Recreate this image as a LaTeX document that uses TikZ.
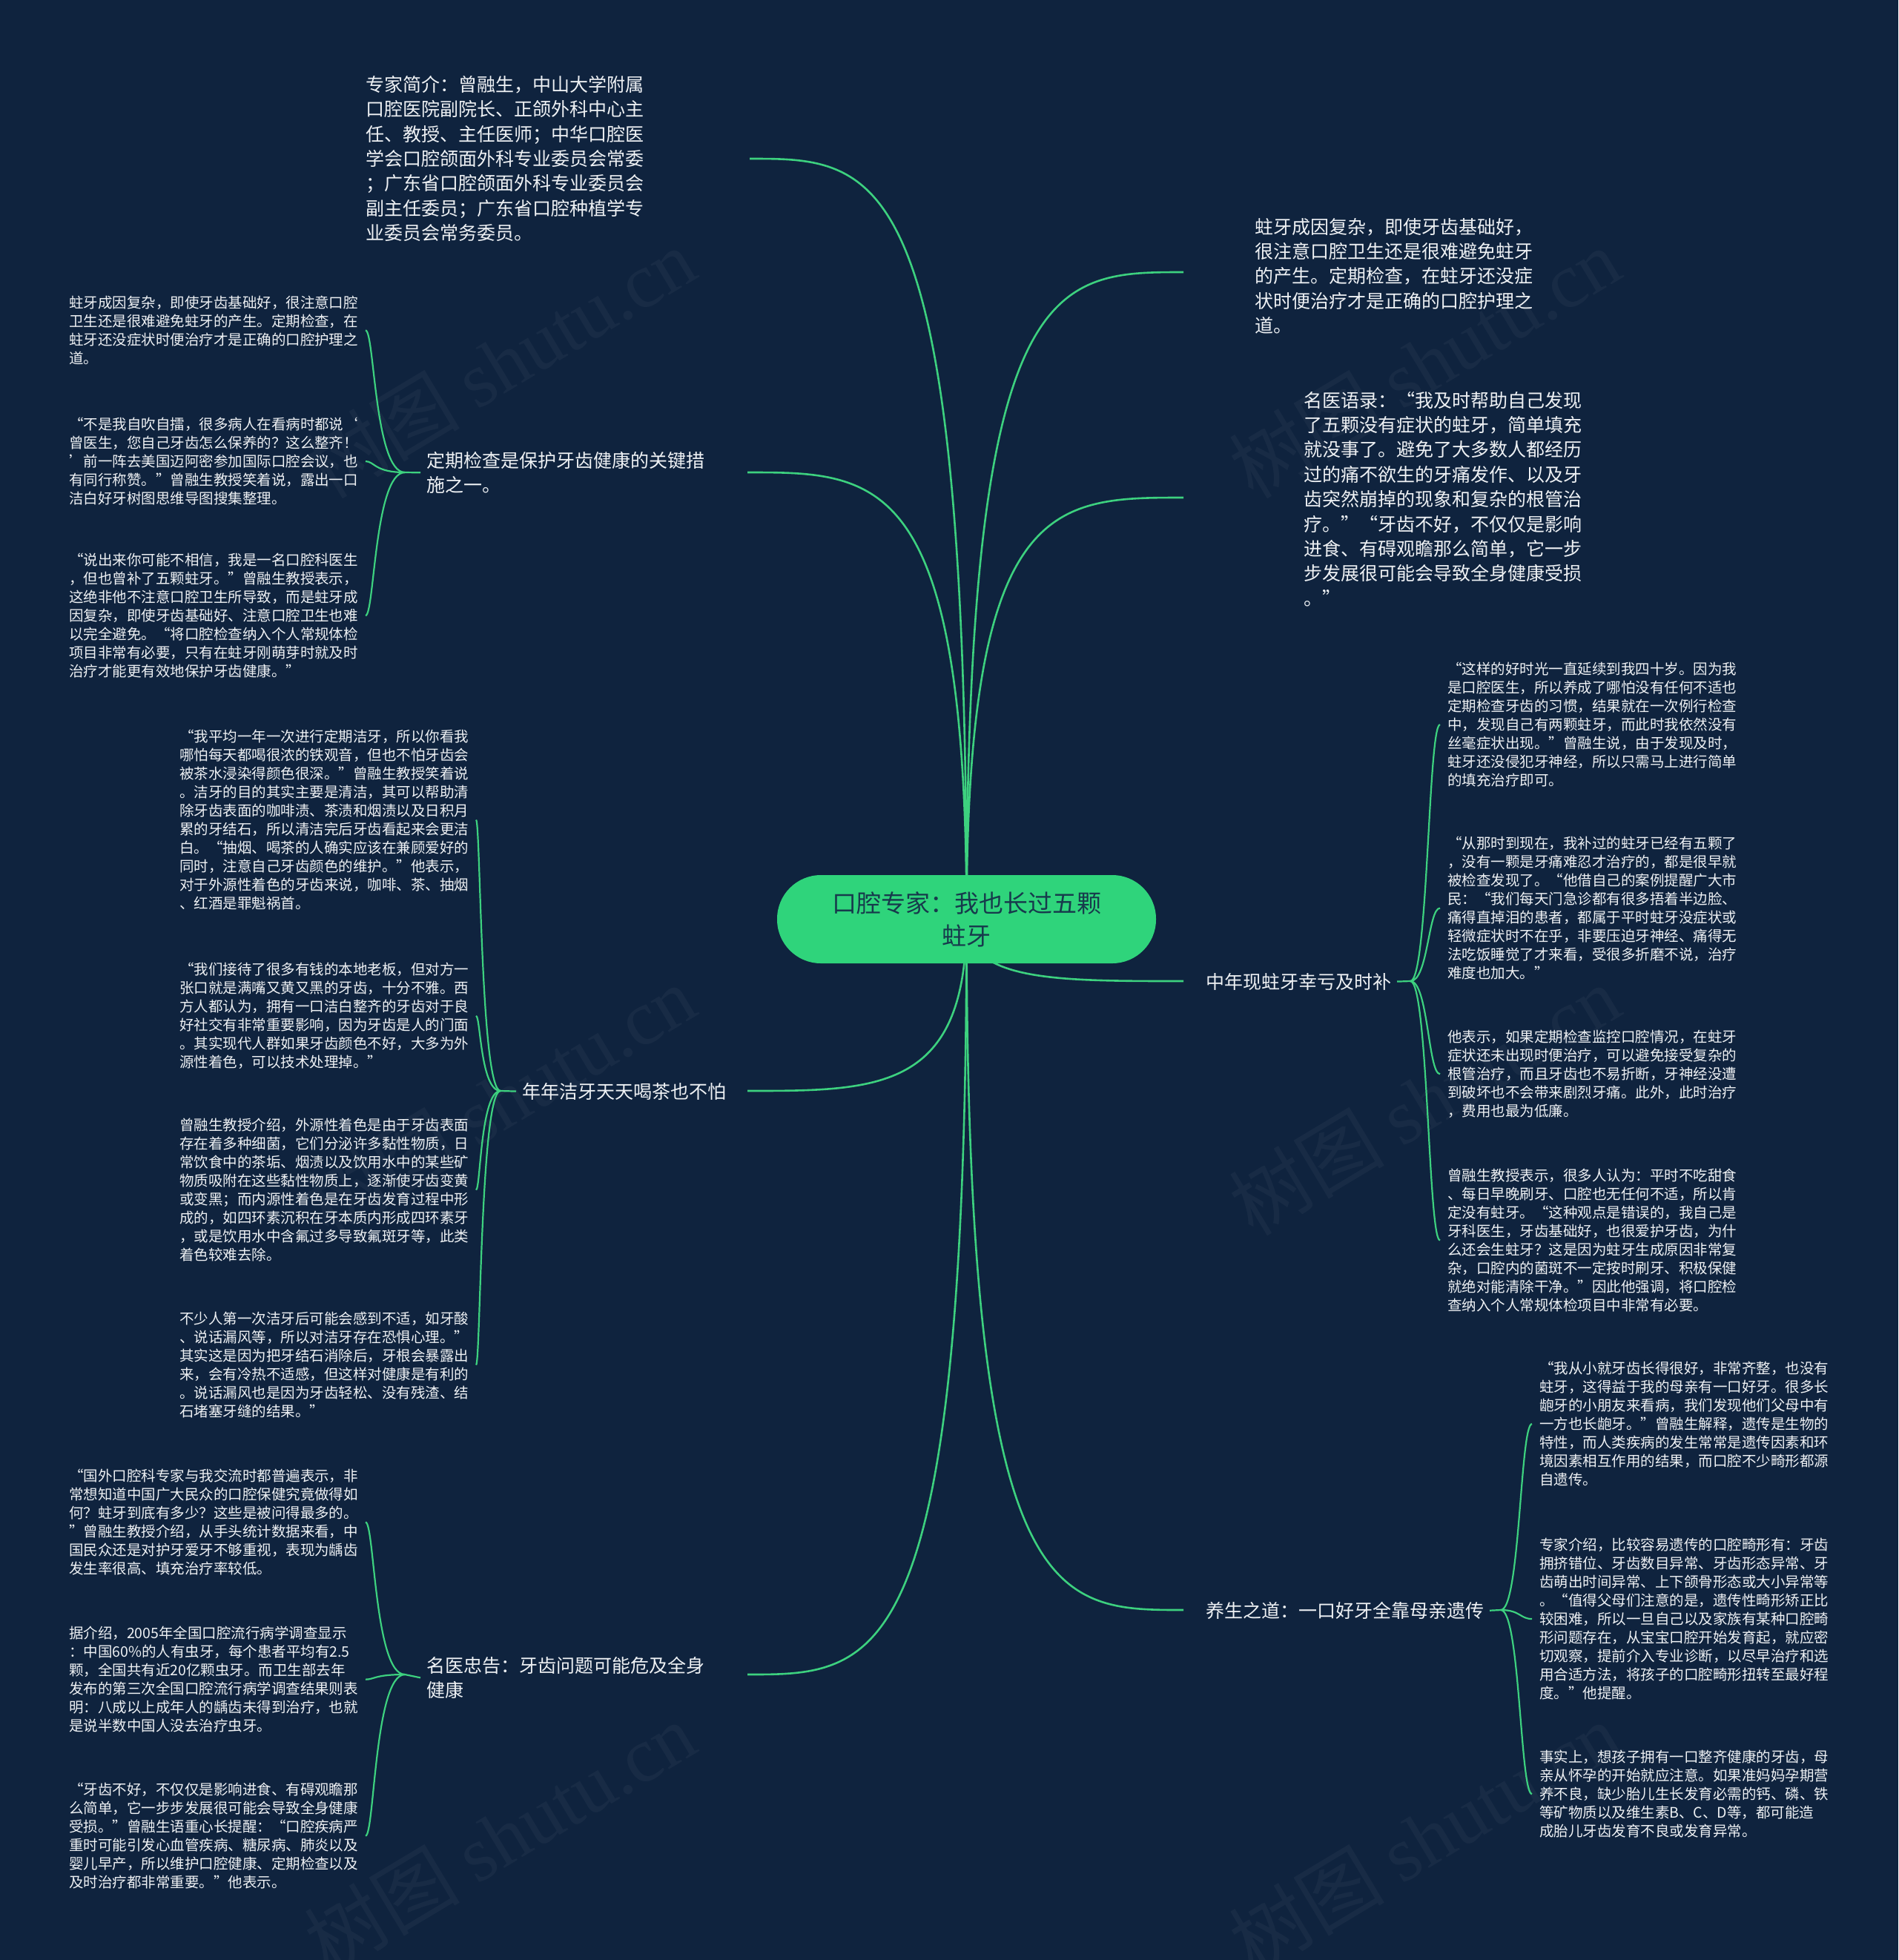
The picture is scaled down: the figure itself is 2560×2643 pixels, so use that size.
\documentclass[tikz,border=0pt]{standalone}
\usepackage{fontspec}
\setmainfont{Noto Sans CJK SC}
\newfontfamily\wmfont{Liberation Serif}
\usetikzlibrary{calc}
\definecolor{bg}{HTML}{0F233E}
\definecolor{ln}{HTML}{3DD17F}
\definecolor{pill}{HTML}{2FD47B}
\definecolor{txt}{HTML}{EEF1F4}
\definecolor{ctxt}{HTML}{173A4C}
\begin{document}
\begin{tikzpicture}[x=1pt,y=-1pt,
  conn/.style={draw=ln,line width=2.6pt},
  brace/.style={draw=ln,line width=2.2pt},
  leaf/.style={anchor=north west,inner sep=0pt,outer sep=10pt,align=left,text=txt,font=\fontsize{19.5}{25}\selectfont},
  topic/.style={anchor=north west,inner sep=0pt,outer sep=8pt,align=left,text=txt,font=\fontsize{25}{33.4}\selectfont},
  wm/.style={rotate=31,text=white,opacity=0.04,font=\fontsize{105}{110}\selectfont}
]
\useasboundingbox (0,0) rectangle (2560,2643);
\fill[bg] (0,0) rectangle (2560,2643);

% watermarks
\foreach \wx/\wy/\wn in {674/489/a,1921/489/b,674/1483/c,1921/1483/d,674/2477/e,1921/2477/f}{
  \node[wm] (wm\wn) at (\wx,\wy) {树图 {\wmfont shutu.cn}};
}

% root position and connector ends
\coordinate (rc) at (1303.5,1239.5);
\coordinate (e1) at (1011,214);
\coordinate (e2) at (1008,637);
\coordinate (e3) at (1008,1471);
\coordinate (e4) at (1008,2258);
\coordinate (e5) at (1596,367);
\coordinate (e6) at (1596,671);
\coordinate (e7) at (1596,1323);
\coordinate (e8) at (1596,2171);

\foreach \e in {e1,e2,e3,e4,e5,e6,e7,e8}{
  \draw[conn] (rc) .. controls (rc |- \e) and ($(rc |- \e)!0.4!(\e)$) .. (\e);
}

% root
\node[fill=pill,rounded corners=59pt,minimum width=511pt,minimum height=119pt,inner sep=0pt,align=center,text=ctxt,font=\fontsize{33}{44}\selectfont] (root) at (rc) {口腔专家：我也长过五颗\\蛀牙};

% topics (anchor offset by outer sep 8)
\node[topic] (q1) at (485,94) {专家简介：曾融生，中山大学附属\\口腔医院副院长、正颌外科中心主\\任、教授、主任医师；中华口腔医\\学会口腔颌面外科专业委员会常委\\；广东省口腔颌面外科专业委员会\\副主任委员；广东省口腔种植学专\\业委员会常务委员。};
\node[topic] (q2) at (567,601) {定期检查是保护牙齿健康的关键措\\施之一。};
\node[topic] (q3) at (696,1452) {年年洁牙天天喝茶也不怕};
\node[topic] (q4) at (567,2226) {名医忠告：牙齿问题可能危及全身\\健康};
\node[topic] (q5) at (1684,286) {蛀牙成因复杂，即使牙齿基础好，\\很注意口腔卫生还是很难避免蛀牙\\的产生。定期检查，在蛀牙还没症\\状时便治疗才是正确的口腔护理之\\道。};
\node[topic] (q6) at (1750,520) {名医语录：“我及时帮助自己发现\\了五颗没有症状的蛀牙，简单填充\\就没事了。避免了大多数人都经历\\过的痛不欲生的牙痛发作、以及牙\\齿突然崩掉的现象和复杂的根管治\\疗。”“牙齿不好，不仅仅是影响\\进食、有碍观瞻那么简单，它一步\\步发展很可能会导致全身健康受损\\。”};
\node[topic] (q7) at (1618,1304) {中年现蛀牙幸亏及时补};
\node[topic] (q8) at (1618,2152) {养生之道：一口好牙全靠母亲遗传};

% leaves of q2 (anchor offset by outer sep 10)
\node[leaf] (l21) at (83,389) {蛀牙成因复杂，即使牙齿基础好，很注意口腔\\卫生还是很难避免蛀牙的产生。定期检查，在\\蛀牙还没症状时便治疗才是正确的口腔护理之\\道。};
\node[leaf] (l22) at (83,553) {“不是我自吹自擂，很多病人在看病时都说‘\\曾医生，您自己牙齿怎么保养的？这么整齐！\\’前一阵去美国迈阿密参加国际口腔会议，也\\有同行称赞。”曾融生教授笑着说，露出一口\\洁白好牙树图思维导图搜集整理。};
\node[leaf] (l23) at (83,736) {“说出来你可能不相信，我是一名口腔科医生\\，但也曾补了五颗蛀牙。”曾融生教授表示，\\这绝非他不注意口腔卫生所导致，而是蛀牙成\\因复杂，即使牙齿基础好、注意口腔卫生也难\\以完全避免。“将口腔检查纳入个人常规体检\\项目非常有必要，只有在蛀牙刚萌芽时就及时\\治疗才能更有效地保护牙齿健康。”};

% leaves of q3
\node[leaf] (l31) at (232,974) {“我平均一年一次进行定期洁牙，所以你看我\\哪怕每天都喝很浓的铁观音，但也不怕牙齿会\\被茶水浸染得颜色很深。”曾融生教授笑着说\\。洁牙的目的其实主要是清洁，其可以帮助清\\除牙齿表面的咖啡渍、茶渍和烟渍以及日积月\\累的牙结石，所以清洁完后牙齿看起来会更洁\\白。“抽烟、喝茶的人确实应该在兼顾爱好的\\同时，注意自己牙齿颜色的维护。”他表示，\\对于外源性着色的牙齿来说，咖啡、茶、抽烟\\、红酒是罪魁祸首。};
\node[leaf] (l32) at (232,1288) {“我们接待了很多有钱的本地老板，但对方一\\张口就是满嘴又黄又黑的牙齿，十分不雅。西\\方人都认为，拥有一口洁白整齐的牙齿对于良\\好社交有非常重要影响，因为牙齿是人的门面\\。其实现代人群如果牙齿颜色不好，大多为外\\源性着色，可以技术处理掉。”};
\node[leaf] (l33) at (232,1498) {曾融生教授介绍，外源性着色是由于牙齿表面\\存在着多种细菌，它们分泌许多黏性物质，日\\常饮食中的茶垢、烟渍以及饮用水中的某些矿\\物质吸附在这些黏性物质上，逐渐使牙齿变黄\\或变黑；而内源性着色是在牙齿发育过程中形\\成的，如四环素沉积在牙本质内形成四环素牙\\，或是饮用水中含氟过多导致氟斑牙等，此类\\着色较难去除。};
\node[leaf] (l34) at (232,1759) {不少人第一次洁牙后可能会感到不适，如牙酸\\、说话漏风等，所以对洁牙存在恐惧心理。”\\其实这是因为把牙结石消除后，牙根会暴露出\\来，会有冷热不适感，但这样对健康是有利的\\。说话漏风也是因为牙齿轻松、没有残渣、结\\石堵塞牙缝的结果。”};

% leaves of q4
\node[leaf] (l41) at (83,1971) {“国外口腔科专家与我交流时都普遍表示，非\\常想知道中国广大民众的口腔保健究竟做得如\\何？蛀牙到底有多少？这些是被问得最多的。\\”曾融生教授介绍，从手头统计数据来看，中\\国民众还是对护牙爱牙不够重视，表现为龋齿\\发生率很高、填充治疗率较低。};
\node[leaf] (l42) at (83,2183) {据介绍，2005年全国口腔流行病学调查显示\\：中国60\%的人有虫牙，每个患者平均有2.5\\颗，全国共有近20亿颗虫牙。而卫生部去年\\发布的第三次全国口腔流行病学调查结果则表\\明：八成以上成年人的龋齿未得到治疗，也就\\是说半数中国人没去治疗虫牙。};
\node[leaf] (l43) at (83,2394) {“牙齿不好，不仅仅是影响进食、有碍观瞻那\\么简单，它一步步发展很可能会导致全身健康\\受损。”曾融生语重心长提醒：“口腔疾病严\\重时可能引发心血管疾病、糖尿病、肺炎以及\\婴儿早产，所以维护口腔健康、定期检查以及\\及时治疗都非常重要。”他表示。};

% leaves of q7
\node[leaf] (l71) at (1942,883) {“这样的好时光一直延续到我四十岁。因为我\\是口腔医生，所以养成了哪怕没有任何不适也\\定期检查牙齿的习惯，结果就在一次例行检查\\中，发现自己有两颗蛀牙，而此时我依然没有\\丝毫症状出现。”曾融生说，由于发现及时，\\蛀牙还没侵犯牙神经，所以只需马上进行简单\\的填充治疗即可。};
\node[leaf] (l72) at (1942,1118) {“从那时到现在，我补过的蛀牙已经有五颗了\\，没有一颗是牙痛难忍才治疗的，都是很早就\\被检查发现了。“他借自己的案例提醒广大市\\民：“我们每天门急诊都有很多捂着半边脸、\\痛得直掉泪的患者，都属于平时蛀牙没症状或\\轻微症状时不在乎，非要压迫牙神经、痛得无\\法吃饭睡觉了才来看，受很多折磨不说，治疗\\难度也加大。”};
\node[leaf] (l73) at (1942,1379) {他表示，如果定期检查监控口腔情况，在蛀牙\\症状还未出现时便治疗，可以避免接受复杂的\\根管治疗，而且牙齿也不易折断，牙神经没遭\\到破坏也不会带来剧烈牙痛。此外，此时治疗\\，费用也最为低廉。};
\node[leaf] (l74) at (1942,1566) {曾融生教授表示，很多人认为：平时不吃甜食\\、每日早晚刷牙、口腔也无任何不适，所以肯\\定没有蛀牙。“这种观点是错误的，我自己是\\牙科医生，牙齿基础好，也很爱护牙齿，为什\\么还会生蛀牙？这是因为蛀牙生成原因非常复\\杂，口腔内的菌斑不一定按时刷牙、积极保健\\就绝对能清除干净。”因此他强调，将口腔检\\查纳入个人常规体检项目中非常有必要。};

% leaves of q8
\node[leaf] (l81) at (2066,1826) {“我从小就牙齿长得很好，非常齐整，也没有\\蛀牙，这得益于我的母亲有一口好牙。很多长\\龅牙的小朋友来看病，我们发现他们父母中有\\一方也长龅牙。”曾融生解释，遗传是生物的\\特性，而人类疾病的发生常常是遗传因素和环\\境因素相互作用的结果，而口腔不少畸形都源\\自遗传。};
\node[leaf] (l82) at (2066,2064) {专家介绍，比较容易遗传的口腔畸形有：牙齿\\拥挤错位、牙齿数目异常、牙齿形态异常、牙\\齿萌出时间异常、上下颌骨形态或大小异常等\\。“值得父母们注意的是，遗传性畸形矫正比\\较困难，所以一旦自己以及家族有某种口腔畸\\形问题存在，从宝宝口腔开始发育起，就应密\\切观察，提前介入专业诊断，以尽早治疗和选\\用合适方法，将孩子的口腔畸形扭转至最好程\\度。”他提醒。};
\node[leaf] (l83) at (2066,2350) {事实上，想孩子拥有一口整齐健康的牙齿，母\\亲从怀孕的开始就应注意。如果准妈妈孕期营\\养不良，缺少胎儿生长发育必需的钙、磷、铁\\等矿物质以及维生素B、C、D等，都可能造\\成胎儿牙齿发育不良或发育异常。};

% brace junctions
\coordinate (j2) at (546,637);  \coordinate (b2) at (505,637);
\coordinate (j3) at (675,1471); \coordinate (b3) at (648,1471);
\coordinate (j4) at (546,2258); \coordinate (b4) at (505,2258);
\coordinate (j7) at (1902,1323); \coordinate (b7) at (1926,1323);
\coordinate (j8) at (2024,2171); \coordinate (b8) at (2050,2171);

\draw[brace] (q2.west) -- (j2);
\draw[brace] (q3.west) -- (j3);
\draw[brace] (q4.west) -- (j4);
\draw[brace] (q7.east) -- (j7);
\draw[brace] (q8.east) -- (j8);

\foreach \l in {l21,l22,l23}{\draw[brace] (j2) .. controls (b2 |- j2) and (b2 |- \l.east) .. (\l.east);}
\foreach \l in {l31,l32,l33,l34}{\draw[brace] (j3) .. controls (b3 |- j3) and (b3 |- \l.east) .. (\l.east);}
\foreach \l in {l41,l42,l43}{\draw[brace] (j4) .. controls (b4 |- j4) and (b4 |- \l.east) .. (\l.east);}
\foreach \l in {l71,l72,l73,l74}{\draw[brace] (j7) .. controls (b7 |- j7) and (b7 |- \l.west) .. (\l.west);}
\foreach \l in {l81,l82,l83}{\draw[brace] (j8) .. controls (b8 |- j8) and (b8 |- \l.west) .. (\l.west);}
\end{tikzpicture}
\end{document}
